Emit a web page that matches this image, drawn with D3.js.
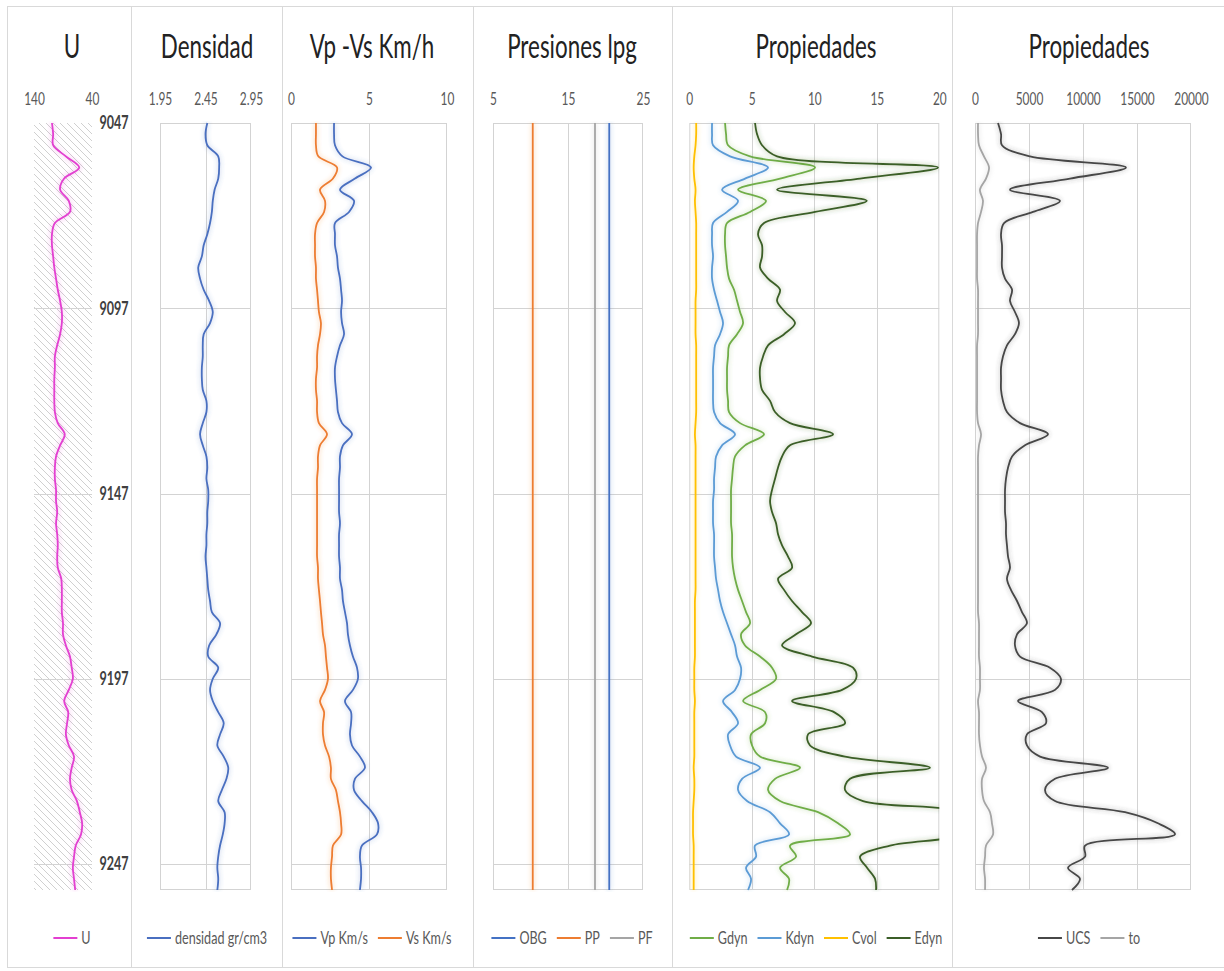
<!DOCTYPE html>
<html><head><meta charset="utf-8">
<script src="https://cdn.jsdelivr.net/npm/d3@7"></script>
<style>body{margin:0;background:#fff} svg text{font-family:Lato,"Open Sans",sans-serif}</style>
</head><body><svg id="c" width="1224" height="971"></svg>
<script>
// ---------------- DATA ----------------
const depth = [9047,9050,9053,9056,9059,9062,9065,9068,9071,9074,9077,9080,9083,9086,9089,9092,9095,9098,9101,9104,
9107,9110,9113,9116,9119,9122,9125,9128,9131,9134,9137,9140,9143,9146,9149,9152,9155,9158,9161,9164,
9167,9170,9173,9176,9179,9182,9185,9188,9191,9194,9197,9200,9203,9206,9209,9212,9215,9218,9221,9224,
9227,9230,9233,9236,9239,9242,9245,9248,9251,9254];
const depthTicks = [9047,9097,9147,9197,9247];

const U = [109,107,107,85,62,88,95,80,78,104, 109,109,107,105,102,99,95,92,92,95,
100,104,104,105,105,105,104,99,87,95, 102,104,104,102,102,100,102,100,99,100,
99,93,92,92,92,90,90,85,78,75, 73,80,88,81,83,85,80,71,75,78,
75,66,61,57,59,68,71,73,71,69];
const densidad = [2.47,2.45,2.47,2.59,2.60,2.59,2.55,2.53,2.52,2.50, 2.47,2.43,2.41,2.37,2.39,2.43,2.49,2.53,2.50,2.43,
2.42,2.42,2.41,2.41,2.42,2.46,2.46,2.42,2.39,2.42, 2.46,2.47,2.46,2.48,2.48,2.47,2.47,2.46,2.46,2.45,
2.46,2.47,2.48,2.50,2.52,2.61,2.57,2.49,2.48,2.59, 2.53,2.50,2.53,2.59,2.65,2.61,2.58,2.65,2.70,2.68,
2.63,2.59,2.66,2.66,2.64,2.61,2.59,2.58,2.59,2.58];
const Vp = [2.76,2.76,2.82,3.30,5.13,4.10,3.14,4.04,3.72,2.82, 2.82,2.82,2.95,3.01,3.14,3.21,3.27,3.21,3.27,3.40,
3.14,2.95,2.82,2.82,2.88,2.95,3.01,3.27,3.91,3.33, 3.14,3.14,3.08,3.08,3.08,3.08,3.14,3.08,3.08,3.08,
3.14,3.14,3.27,3.33,3.46,3.59,3.65,3.78,3.97,4.23, 4.29,3.97,3.46,3.85,3.85,3.78,3.91,4.42,4.74,4.10,
4.04,4.55,5.19,5.58,5.51,4.55,4.42,4.49,4.49,4.42];
const Vs = [1.60,1.60,1.60,1.75,2.95,2.69,1.86,2.18,2.12,1.67, 1.54,1.54,1.54,1.60,1.60,1.67,1.73,1.79,1.92,1.86,
1.73,1.67,1.67,1.60,1.60,1.67,1.67,1.79,2.31,1.86, 1.73,1.73,1.67,1.67,1.67,1.67,1.67,1.67,1.67,1.67,
1.73,1.73,1.79,1.86,1.92,1.99,2.05,2.18,2.24,2.31, 2.37,2.18,1.86,2.12,2.05,2.05,2.18,2.44,2.56,2.56,
2.88,3.01,3.14,3.21,3.21,2.69,2.63,2.56,2.56,2.63];
const presDepth = [9047, 9254];
const OBG = [20.5, 20.5];
const PP = [10.3, 10.3];
const PF = [18.6, 18.6];
const Gdyn = [2.86,2.94,3.10,4.86,10.06,7.26,3.90,6.14,4.86,3.02, 2.86,2.86,2.94,3.02,3.18,3.58,3.82,4.06,4.30,3.82,
3.18,3.10,3.02,3.02,3.02,3.10,3.18,4.06,5.98,4.46, 3.66,3.50,3.42,3.34,3.34,3.34,3.34,3.42,3.42,3.42,
3.50,3.66,3.90,4.22,4.54,4.86,4.14,4.46,5.66,6.62, 6.94,5.66,4.30,6.06,6.06,4.94,5.02,5.66,8.86,6.86,
6.30,7.26,10.30,11.90,12.86,8.06,8.54,7.26,7.98,7.82];
const Kdyn = [1.82,1.82,1.90,3.26,6.30,4.46,2.62,3.90,3.02,1.90, 1.82,1.82,1.90,1.82,1.82,1.98,2.22,2.46,2.70,2.46,
2.06,1.98,1.90,1.90,1.90,1.90,1.98,2.46,3.66,2.62, 2.14,2.06,1.98,1.98,1.90,1.90,1.90,1.98,1.98,1.98,
2.06,2.14,2.30,2.46,2.70,3.02,3.34,3.66,3.82,4.14, 4.06,3.66,2.70,3.42,3.90,3.10,3.26,3.74,5.66,4.22,
3.90,4.62,6.46,7.26,7.98,5.26,5.34,4.54,4.94,4.70];
const Cvol = [0.55,0.55,0.50,0.40,0.35,0.40,0.50,0.45,0.50,0.55, 0.55,0.55,0.55,0.55,0.55,0.55,0.50,0.50,0.50,0.50,
0.55,0.55,0.55,0.55,0.55,0.55,0.55,0.50,0.45,0.50, 0.50,0.50,0.50,0.50,0.50,0.50,0.50,0.50,0.50,0.50,
0.50,0.50,0.50,0.45,0.45,0.45,0.45,0.45,0.45,0.40, 0.40,0.40,0.45,0.40,0.40,0.40,0.40,0.40,0.35,0.40,
0.40,0.35,0.30,0.30,0.30,0.35,0.35,0.35,0.35,0.35];
const Edyn = [5.26,5.42,5.82,7.02,19.9,13.66,7.02,14.2,10.06,5.98, 5.50,5.82,5.82,5.66,6.30,7.26,7.02,7.66,8.46,7.58,
6.30,5.90,5.66,5.66,5.82,6.46,6.86,8.06,11.50,8.06, 7.42,7.10,6.86,6.62,6.46,6.62,6.94,7.10,7.42,7.90,
8.22,7.10,7.58,8.22,9.02,9.74,8.54,7.42,9.82,13.10, 13.34,12.22,8.22,11.58,12.46,9.50,9.66,12.46,19.26,12.86,
12.46,13.90,22.0,23.0,22.0,16.06,13.66,14.22,14.86,14.94];
const UCS = [2130,2410,2500,5090,13980,8800,3240,7870,5370,2690, 2410,2500,2500,2500,2780,3430,3240,3700,4070,3700,
2960,2590,2410,2410,2410,2590,2960,4170,6760,4630, 3430,3060,2870,2780,2780,2780,2870,2870,2960,3060,
3240,2960,3330,3890,4350,4810,3890,3700,4170,6940, 7960,7410,3980,6200,6570,4810,4810,6020,12310,7410,
6480,7410,13890,16940,18520,10190,10190,8610,9720,8980];
const to = [280,280,370,830,1300,1020,460,740,560,280, 190,190,190,190,190,280,280,280,280,280,
190,190,190,190,190,190,190,280,560,370, 280,280,280,280,280,280,280,280,280,280,
280,280,280,280,280,370,370,370,370,460, 460,460,280,370,370,370,460,650,1020,650,
650,830,1390,1570,1670,1020,930,830,930,930];

const titles = ["U","Densidad","Vp -Vs Km/h","Presiones lpg","Propiedades","Propiedades"];
const tickU = [140,40], tickDen = [1.95,2.45,2.95], tickV = [0,5,10], tickP = [5,15,25],
      tickProp = [0,5,10,15,20], tickProp2 = [0,5000,10000,15000,20000];

// ---------------- LAYOUT ----------------
const SX = 0.7; // horizontal text compression
const svg = d3.select('#c');
const defs = svg.append('defs');
defs.append('pattern').attr('id','hatch').attr('patternUnits','userSpaceOnUse').attr('width',7).attr('height',7)
  .append('path').attr('d','M0,0 L7,7 M-1,6 L1,8 M6,-1 L8,1').attr('stroke','#c4c4c4').attr('stroke-width',0.8);
const f = defs.append('filter').attr('id','glow').attr('filterUnits','userSpaceOnUse')
  .attr('x',0).attr('y',0).attr('width',1224).attr('height',971);
f.append('feGaussianBlur').attr('in','SourceGraphic').attr('stdDeviation',2.6).attr('result','b');
f.append('feComponentTransfer').attr('in','b').attr('result','b2').append('feFuncA').attr('type','linear').attr('slope',0.45);
const fm = f.append('feMerge'); fm.append('feMergeNode').attr('in','b2'); fm.append('feMergeNode').attr('in','SourceGraphic');

const Y0 = 123, Y1 = 890;
const y = d3.scaleLinear().domain([9047, 9254]).range([Y0, Y1]);

// frame
svg.append('rect').attr('x',7.5).attr('y',6.5).attr('width',1240).attr('height',961)
  .attr('fill','none').attr('stroke','#d9d9d9');
[131.5, 282.5, 473.5, 672.5, 952.5].forEach(x=>svg.append('line').attr('x1',x).attr('x2',x).attr('y1',6.5).attr('y2',967.5).attr('stroke','#d9d9d9'));

function txt(g, x, yy, s, o){
  return g.append('text').attr('transform',`translate(${x},${yy}) scale(${SX},1)`)
    .attr('font-size',o.size).attr('text-anchor',o.anchor||'middle').attr('fill',o.color||'#595959')
    .attr('font-weight',o.weight||'normal').text(s);
}

const panels = [
  {title:titles[0], cx:72, x0:34, x1:92, dom:[140,40], ticks:tickU, grid:[], hatch:true, border:false, fmt:d=>d,
   series:[{name:'U', x:depth, v:U, c:'#E33FD1'}]},
  {title:titles[1], cx:207, x0:160, x1:251, dom:[1.95,2.95], ticks:tickDen, grid:[2.45], border:true, fmt:d3.format('.2f'),
   series:[{name:'densidad gr/cm3', x:depth, v:densidad, c:'#4A6FC0'}]},
  {title:titles[2], cx:372, x0:291, x1:447, dom:[0,10], ticks:tickV, grid:[5], border:true, fmt:d=>d,
   series:[{name:'Vp Km/s', x:depth, v:Vp, c:'#4A6FC0'},{name:'Vs Km/s', x:depth, v:Vs, c:'#ED7D31'}]},
  {title:titles[3], cx:572, x0:493, x1:643, dom:[5,25], ticks:tickP, grid:[15], border:true, fmt:d=>d,
   series:[{name:'OBG', x:presDepth, v:OBG, c:'#4472C4'},{name:'PP', x:presDepth, v:PP, c:'#ED7D31'},{name:'PF', x:presDepth, v:PF, c:'#A5A5A5'}]},
  {title:titles[4], cx:816, x0:689.3, x1:939.3, dom:[0,20], ticks:tickProp, grid:[5,10,15], border:true, fmt:d=>d,
   series:[{name:'Gdyn', x:depth, v:Gdyn, c:'#70AD47'},{name:'Kdyn', x:depth, v:Kdyn, c:'#5B9BD5'},{name:'Cvol', x:depth, v:Cvol, c:'#FFC000'},{name:'Edyn', x:depth, v:Edyn, c:'#3B5E28'}]},
  {title:titles[5], cx:1089, x0:975, x1:1191, dom:[0,20000], ticks:tickProp2, grid:[5000,10000,15000], border:true, fmt:d=>d,
   series:[{name:'UCS', x:depth, v:UCS, c:'#474747'},{name:'to', x:depth, v:to, c:'#A5A5A5'}]}
];

panels.forEach((p,pi)=>{
  const g = svg.append('g');
  const xs = d3.scaleLinear().domain(p.dom).range([p.x0,p.x1]);
  txt(g, p.cx, 58, p.title, {size:32, color:'#222'});
  if(p.hatch) g.append('rect').attr('x',p.x0).attr('y',Y0).attr('width',p.x1-p.x0).attr('height',Y1-Y0).attr('fill','url(#hatch)');
  depthTicks.slice(1).forEach(d=>g.append('line').attr('x1',p.x0).attr('x2',p.x1).attr('y1',Math.round(y(d))+0.5).attr('y2',Math.round(y(d))+0.5).attr('stroke','#d3d3d3'));
  p.grid.forEach(v=>g.append('line').attr('x1',Math.round(xs(v))+0.5).attr('x2',Math.round(xs(v))+0.5).attr('y1',Y0).attr('y2',Y1).attr('stroke','#d3d3d3'));
  if(p.border) g.append('rect').attr('x',p.x0+0.5).attr('y',Y0+0.5).attr('width',p.x1-p.x0-1).attr('height',Y1-Y0-1).attr('fill','none').attr('stroke','#d3d3d3');
  const ax = g.append('g').attr('transform',`translate(0,${Y0})`).call(d3.axisTop(xs).tickValues(p.ticks).tickFormat(p.fmt).tickSize(0).tickPadding(18));
  ax.select('.domain').remove();
  ax.selectAll('text').attr('font-size',17).attr('fill','#595959').attr('font-family','Lato,sans-serif')
    .attr('transform',`scale(${SX},1)`);
  const cid = 'clip'+pi;
  defs.append('clipPath').attr('id',cid).append('rect').attr('x',p.x0).attr('y',Y0-2).attr('width',p.x1-p.x0).attr('height',Y1-Y0+4);
  const lg = g.append('g').attr('clip-path',`url(#${cid})`);
  p.series.forEach(s=>{
    const pts = s.x.map((d,i)=>[xs(s.v[i]), y(d)]);
    lg.append('path').attr('d', d3.line().curve(d3.curveCatmullRom.alpha(0.5))(pts))
      .attr('fill','none').attr('stroke',s.c).attr('stroke-width',1.8).attr('stroke-linejoin','round').attr('filter','url(#glow)');
  });
  const leg = g.append('g');
  let cur = 0;
  p.series.forEach(s=>{
    const it = leg.append('g');
    it.append('line').attr('x1',0).attr('x2',24).attr('y1',0).attr('y2',0).attr('stroke',s.c).attr('stroke-width',2);
    const t = txt(it, 28, 0, s.name, {size:18, anchor:'start'}).attr('dy','0.35em');
    const w = 28 + t.node().getComputedTextLength()*SX;
    it.attr('transform',`translate(${cur},0)`);
    cur += w + 10;
  });
  const total = cur - 10;
  leg.attr('transform',`translate(${p.cx - total/2},938)`);
});

// depth axis
const da = svg.append('g').attr('transform','translate(130,0)')
  .call(d3.axisLeft(y).tickValues(depthTicks).tickFormat(d3.format('d')).tickSize(0).tickPadding(2));
da.select('.domain').remove();
da.selectAll('text').attr('font-size',18).attr('fill','#404040').attr('font-weight','bold').attr('font-family','Lato,sans-serif')
  .attr('x',-2).attr('transform',`scale(${SX},1)`);
</script></body></html>
